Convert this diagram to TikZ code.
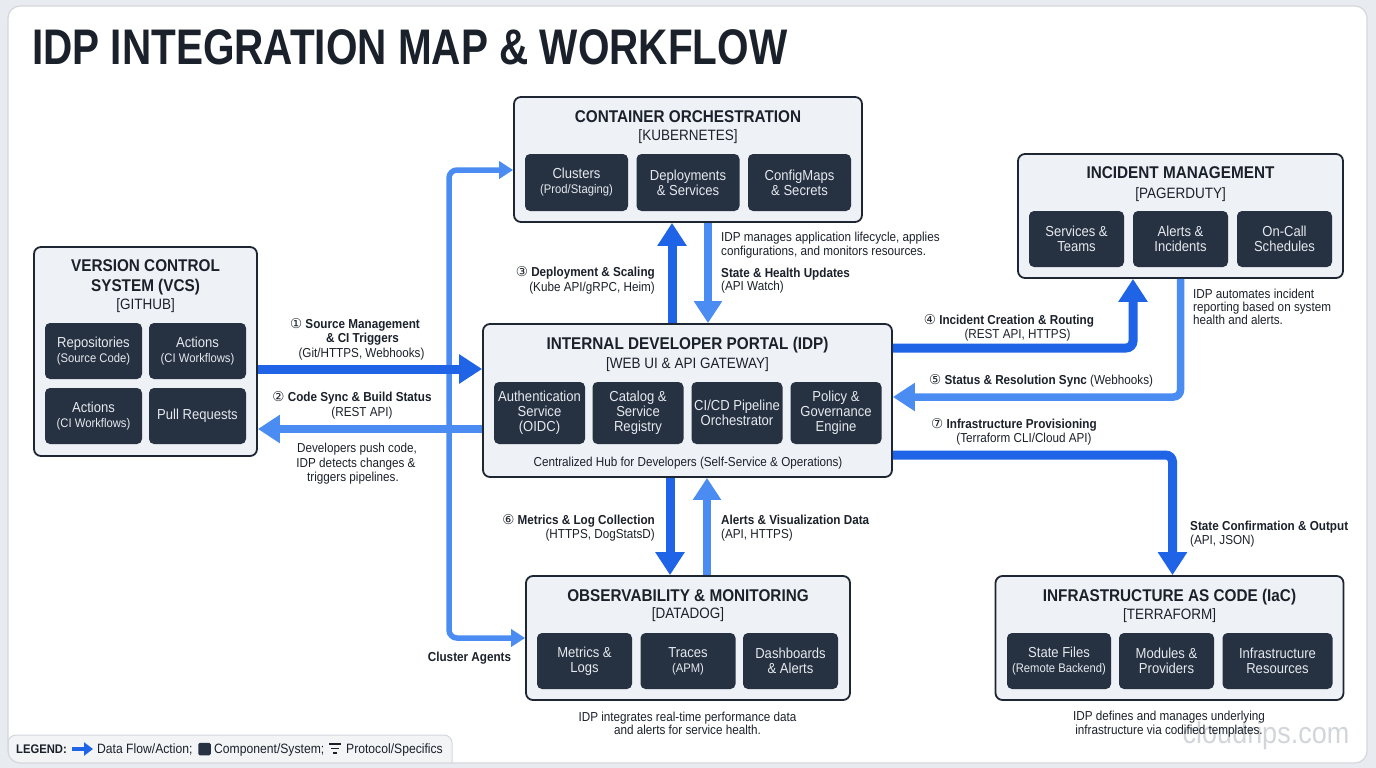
\documentclass[tikz,border=0pt]{standalone}
\usepackage{fontspec}
\setmainfont{Liberation Sans}[FakeStretch=0.9]
\newfontfamily\titlefont{Liberation Sans}[FakeStretch=0.81]
\newfontfamily\symfont{DejaVu Sans}
\usetikzlibrary{arrows.meta}
\definecolor{pagebg}{HTML}{E8EBEF}
\definecolor{framebd}{HTML}{D3D7DD}
\definecolor{boxbg}{HTML}{EEF1F5}
\definecolor{boxbd}{HTML}{1E2633}
\definecolor{inbg}{HTML}{263142}
\definecolor{intx}{HTML}{E6E9EE}
\definecolor{ink}{HTML}{1B212B}
\definecolor{dkblue}{HTML}{1F63E6}
\definecolor{ltblue}{HTML}{4A8CF2}
\definecolor{legbg}{HTML}{F3F4F6}
\definecolor{wmark}{HTML}{D2D6DB}
\newcommand\cn[1]{{\symfont\mdseries\fontsize{13.5}{15}\selectfont #1}}
\newcommand\subt[1]{{\fontsize{12.5}{14}\selectfont #1}}
\begin{document}
\begin{tikzpicture}[x=1pt,y=-1pt,
 obox/.style={draw=boxbd, line width=1.8pt, fill=boxbg, rounded corners=7pt, inner sep=0pt},
 ibox/.style={fill=inbg, rounded corners=5pt, text=intx, align=center, inner sep=0pt, font=\fontsize{14.5}{15}\selectfont},
 btitle/.style={anchor=base, text=ink, inner sep=0pt, font=\bfseries\fontsize{17}{20}\selectfont},
 bsub/.style={anchor=base, text=ink, inner sep=0pt, font=\fontsize{15}{18}\selectfont},
 lbl/.style={anchor=base, text=ink, inner sep=0pt, font=\fontsize{13}{15}\selectfont},
 lblb/.style={lbl, font=\bfseries\fontsize{13}{15}\selectfont},
 darr/.style={draw=dkblue, line width=9pt, -{Triangle[length=23pt,width=28pt]}},
 larr/.style={draw=ltblue, line width=7.5pt, -{Triangle[length=22pt,width=27pt]}},
 tarr/.style={draw=ltblue, line width=5.5pt, -{Triangle[length=14pt,width=17pt]}},
 leg/.style={anchor=base west, text=ink, inner sep=0pt, font=\fontsize{13.5}{15}\selectfont},
]
% page and frame
\fill[pagebg] (0,0) rectangle (1376,768);
\useasboundingbox (0,0) rectangle (1376,768);
\fill[white, rounded corners=12pt] (8,6) rectangle (1367,763);
\begin{scope}
\clip[rounded corners=12pt] (8,6) rectangle (1367,763);
\path[fill=legbg, draw=framebd, line width=1pt, rounded corners=8pt] (8,763) -- (8,735) -- (452,735) -- (452,763);
\end{scope}
\draw[framebd, line width=1.2pt, rounded corners=12pt] (8,6) rectangle (1367,763);

% watermark (behind everything else)
\node[inner sep=0pt, text=wmark, font=\fontsize{30}{30}\selectfont] (wm) at (1266,736) {cloudrips.com};

% title
\node[anchor=base west, inner sep=0pt, text=ink, font=\titlefont\bfseries\fontsize{50}{52}\selectfont] (title) at (32,64) {IDP INTEGRATION MAP \& WORKFLOW};

% outer boxes
\node[obox, minimum width=348pt, minimum height=125pt] (k8s) at (688,159.5) {};
\node[obox, minimum width=223pt, minimum height=209pt] (vcs) at (145.5,351.5) {};
\node[obox, minimum width=325pt, minimum height=124pt] (inc) at (1180.5,216) {};
\node[obox, minimum width=409pt, minimum height=153pt] (idp) at (687.5,400.5) {};
\node[obox, minimum width=324pt, minimum height=124pt] (obs) at (688,638) {};
\node[obox, minimum width=348pt, minimum height=124pt] (iac) at (1169.5,638) {};

% container orchestration
\node[btitle] (k8st) at (688,122) {CONTAINER ORCHESTRATION};
\node[bsub] (k8ss) at (688,140.4) {[KUBERNETES]};
\node[ibox, minimum width=103pt, minimum height=57pt] (k1) at (576.5,182.5) {Clusters\\\subt{(Prod/Staging)}};
\node[ibox, minimum width=103pt, minimum height=57pt] (k2) at (688,182.5) {Deployments\\\& Services};
\node[ibox, minimum width=103pt, minimum height=57pt] (k3) at (799.5,182.5) {ConfigMaps\\\& Secrets};

% version control
\node[btitle] (vcst1) at (145.5,271) {VERSION CONTROL};
\node[btitle] (vcst2) at (145.5,291) {SYSTEM (VCS)};
\node[bsub] (vcss) at (145.5,309.5) {[GITHUB]};
\node[ibox, minimum width=97pt, minimum height=56pt] (v1) at (93.5,351) {Repositories\\\subt{(Source Code)}};
\node[ibox, minimum width=97pt, minimum height=56pt] (v2) at (197.5,351) {Actions\\\subt{(CI Workflows)}};
\node[ibox, minimum width=97pt, minimum height=56pt] (v3) at (93.5,416) {Actions\\\subt{(CI Workflows)}};
\node[ibox, minimum width=97pt, minimum height=56pt] (v4) at (197.5,416) {Pull Requests};

% incident management
\node[btitle] (inct) at (1180.5,178.8) {INCIDENT MANAGEMENT};
\node[bsub] (incs) at (1180.5,198.4) {[PAGERDUTY]};
\node[ibox, minimum width=95pt, minimum height=56pt] (i1) at (1076.5,239) {Services \&\\Teams};
\node[ibox, minimum width=95pt, minimum height=56pt] (i2) at (1180.5,239) {Alerts \&\\Incidents};
\node[ibox, minimum width=95pt, minimum height=56pt] (i3) at (1284.5,239) {On-Call\\Schedules};

% IDP
\node[btitle] (idpt) at (687.5,349.1) {INTERNAL DEVELOPER PORTAL (IDP)};
\node[bsub] (idps) at (687.5,368) {[WEB UI \& API GATEWAY]};
\node[ibox, minimum width=91pt, minimum height=62pt] (p1) at (539.5,413) {Authentication\\Service\\(OIDC)};
\node[ibox, minimum width=91pt, minimum height=62pt] (p2) at (638,413) {Catalog \&\\Service\\Registry};
\node[ibox, minimum width=91pt, minimum height=62pt] (p3) at (737,413) {CI/CD Pipeline\\Orchestrator};
\node[ibox, minimum width=91pt, minimum height=62pt] (p4) at (836,413) {Policy \&\\Governance\\Engine};
\node[lbl] (idpc) at (688,466.4) {Centralized Hub for Developers (Self-Service \& Operations)};

% observability
\node[btitle] (obst) at (688,601) {OBSERVABILITY \& MONITORING};
\node[bsub] (obss) at (688,618.5) {[DATADOG]};
\node[ibox, minimum width=95pt, minimum height=56pt] (o1) at (584.5,661) {Metrics \&\\Logs};
\node[ibox, minimum width=95pt, minimum height=56pt] (o2) at (688,661) {Traces\\\subt{(APM)}};
\node[ibox, minimum width=95pt, minimum height=56pt] (o3) at (790.5,661) {Dashboards\\\& Alerts};

% IaC
\node[btitle] (iact) at (1169.5,601) {INFRASTRUCTURE AS CODE (IaC)};
\node[bsub] (iacs) at (1169.5,619.4) {[TERRAFORM]};
\node[ibox, minimum width=104pt, minimum height=56pt] (c1) at (1059,661) {State Files\\\subt{(Remote Backend)}};
\node[ibox, minimum width=95pt, minimum height=56pt] (c2) at (1166.5,661) {Modules \&\\Providers};
\node[ibox, minimum width=110pt, minimum height=56pt] (c3) at (1277.5,661) {Infrastructure\\Resources};

% connector anchor points
\coordinate (jn) at (449,400);
\coordinate (k8sin) at ([yshift=-10.5pt]k8s.west);
\coordinate (a1s) at ([yshift=-17.5pt]vcs.east);
\coordinate (a2s) at ([yshift=-28.5pt]idp.west);
\coordinate (a3) at ([xshift=-16pt]k8s.south);
\coordinate (a3b) at ([xshift=20pt]k8s.south);
\coordinate (a6) at ([xshift=-17.5pt]idp.south);
\coordinate (a6b) at ([xshift=19.5pt]idp.south);
\coordinate (a4s) at ([yshift=52.5pt]idp.east);
\coordinate (a4e) at ([xshift=-47.5pt]inc.south);
\coordinate (a5e) at ([yshift=3.5pt]idp.east);
\coordinate (a7s) at ([yshift=-54.5pt]idp.east);
\coordinate (a7e) at ([xshift=3pt]iac.north);

% connectors
\draw[tarr, rounded corners=8pt] (jn) |- (k8sin);
\draw[tarr, rounded corners=8pt] (jn) |- (obs.west);
\draw[darr] (a1s) -- (a1s -| idp.west);
\draw[larr] (a2s) -- (a2s -| vcs.east);
\draw[darr] (a3 |- idp.north) -- (a3);
\draw[larr] (a3b) -- (a3b |- idp.north);
\draw[darr] (a6) -- (a6 |- obs.north);
\draw[larr] (a6b |- obs.north) -- (a6b);
\draw[darr, rounded corners=7pt] (a4s) -| (a4e);
\draw[larr, rounded corners=7pt] (inc.south) |- (a5e);
\draw[darr, rounded corners=7pt] (a7s) -| (a7e);

% labels
\node[lblb] (l1a) at (355,328) {\cn{①} Source Management};
\node[lblb] (l1b) at (362.5,342.7) {\& CI Triggers};
\node[lbl] (l1c) at (361.5,357.7) {(Git/HTTPS, Webhooks)};
\node[lblb] (l2a) at (352,401.4) {\cn{②} Code Sync \& Build Status};
\node[lbl] (l2b) at (362,416.5) {(REST API)};
\node[lbl] (l3a) at (357,452.7) {Developers push code,};
\node[lbl] (l3b) at (356,467.4) {IDP detects changes \&};
\node[lbl] (l3c) at (353,481.5) {triggers pipelines.};

\node[lblb, anchor=base east] (l4a) at (655,276.4) {\cn{③} Deployment \& Scaling};
\node[lbl, anchor=base east] (l4b) at (655,291.4) {(Kube API/gRPC, Heim)};
\node[lbl, anchor=base west] (l5a) at (721,241.4) {IDP manages application lifecycle, applies};
\node[lbl, anchor=base west] (l5b) at (721,255.7) {configurations, and monitors resources.};
\node[lblb, anchor=base west] (l6a) at (721,277.4) {State \& Health Updates};
\node[lbl, anchor=base west] (l6b) at (721,290.7) {(API Watch)};

\node[lbl, anchor=base west] (l7a) at (1193,298.7) {IDP automates incident};
\node[lbl, anchor=base west] (l7b) at (1193,311.4) {reporting based on system};
\node[lbl, anchor=base west] (l7c) at (1193,324.7) {health and alerts.};
\node[lblb] (l8a) at (1009,324) {\cn{④} Incident Creation \& Routing};
\node[lbl] (l8b) at (1017.5,338.7) {(REST API, HTTPS)};
\node[lbl, anchor=base west] (l9) at (929,384) {\cn{⑤} {\bfseries Status \& Resolution Sync} (Webhooks)};
\node[lblb] (l10a) at (1014,428) {\cn{⑦} Infrastructure Provisioning};
\node[lbl] (l10b) at (1024,442) {(Terraform CLI/Cloud API)};
\node[lblb, anchor=base west] (l11a) at (1190,530.7) {State Confirmation \& Output};
\node[lbl, anchor=base west] (l11b) at (1190,544.7) {(API, JSON)};

\node[lblb, anchor=base east] (l12a) at (655,524) {\cn{⑥} Metrics \& Log Collection};
\node[lbl, anchor=base east] (l12b) at (655,538.7) {(HTTPS, DogStatsD)};
\node[lblb, anchor=base west] (l13a) at (721,524) {Alerts \& Visualization Data};
\node[lbl, anchor=base west] (l13b) at (721,538.7) {(API, HTTPS)};
\node[lblb] (l14) at (469.5,661.4) {Cluster Agents};
\node[lbl] (l15a) at (687.5,721.4) {IDP integrates real-time performance data};
\node[lbl] (l15b) at (687.5,734.7) {and alerts for service health.};
\node[lbl] (l16a) at (1169,720.4) {IDP defines and manages underlying};
\node[lbl] (l16b) at (1169,734.7) {infrastructure via codified templates.};

% legend
\node[leg, font=\bfseries\fontsize{12.5}{15}\selectfont] (legt) at (16,753.5) {LEGEND:};
\coordinate (lga) at (72,749);
\coordinate (lgb) at (93,749);
\draw[dkblue, line width=4pt, -{Triangle[length=9pt,width=13pt]}] (lga) -- (lgb);
\node[leg] (leg1) at (97,753.5) {Data Flow/Action;};
\node[fill=inbg, rounded corners=1.5pt, minimum size=12.5pt, inner sep=0pt] (legsq) at (204.5,749) {};
\node[leg] (leg2) at (214,753.5) {Component/System;};
\coordinate (lf) at (335,748.5);
\draw[ink, line width=1.2pt] ([xshift=-6pt,yshift=4.5pt]lf) -- ([xshift=6pt,yshift=4.5pt]lf);
\draw[ink, line width=1.2pt] ([xshift=-4pt]lf) -- ([xshift=4pt]lf);
\draw[ink, line width=1.2pt] ([xshift=-2pt,yshift=-4.5pt]lf) -- ([xshift=2pt,yshift=-4.5pt]lf);
\node[leg] (leg3) at (346,753.5) {Protocol/Specifics};
\end{tikzpicture}
\end{document}
